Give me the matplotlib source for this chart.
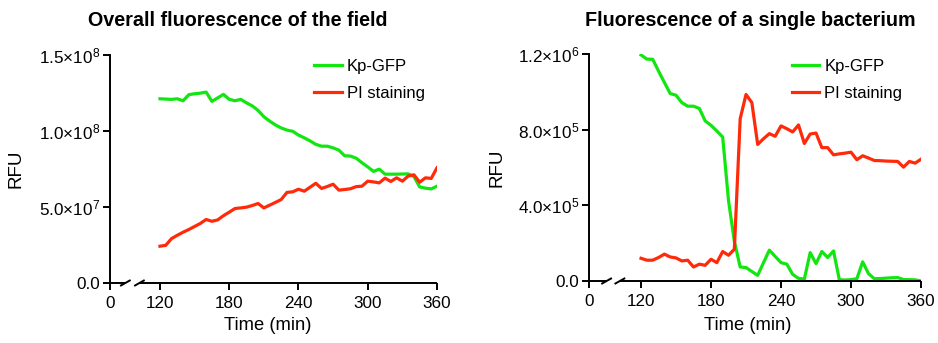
import numpy as np
import matplotlib
matplotlib.use("Agg")
import matplotlib.pyplot as plt

plt.rcParams['font.family'] = ['Liberation Sans', 'DejaVu Sans']
plt.rcParams['mathtext.fontset'] = 'custom'
plt.rcParams['mathtext.rm'] = 'Liberation Sans'
plt.rcParams['mathtext.it'] = 'Liberation Sans'
plt.rcParams['mathtext.default'] = 'regular'

# ---------------- data ----------------
time_min = list(range(120, 361, 5))

field_gfp = [1.212, 1.210, 1.208, 1.212, 1.199, 1.239, 1.245, 1.249, 1.256, 1.195,
             1.218, 1.241, 1.208, 1.199, 1.208, 1.185, 1.165, 1.135, 1.094, 1.065,
             1.040, 1.020, 1.006, 0.998, 0.973, 0.955, 0.935, 0.912, 0.900, 0.900,
             0.889, 0.874, 0.837, 0.835, 0.821, 0.791, 0.764, 0.734, 0.749, 0.716,
             0.716, 0.716, 0.717, 0.718, 0.700, 0.632, 0.624, 0.619, 0.637]
field_pi = [0.242, 0.248, 0.292, 0.314, 0.334, 0.352, 0.372, 0.392, 0.418, 0.406,
            0.415, 0.443, 0.466, 0.490, 0.494, 0.499, 0.510, 0.523, 0.494, 0.512,
            0.530, 0.549, 0.596, 0.600, 0.617, 0.604, 0.630, 0.656, 0.622, 0.635,
            0.650, 0.611, 0.615, 0.620, 0.634, 0.637, 0.670, 0.665, 0.659, 0.690,
            0.668, 0.692, 0.670, 0.703, 0.712, 0.663, 0.692, 0.688, 0.758]
field_gfp = [v * 1e8 for v in field_gfp]
field_pi = [v * 1e8 for v in field_pi]

cell_gfp = [1.195, 1.173, 1.172, 1.110, 1.050, 0.991, 0.982, 0.943, 0.924, 0.924,
            0.912, 0.846, 0.823, 0.793, 0.761, 0.425, 0.210, 0.074, 0.071, 0.050,
            0.030, 0.097, 0.163, 0.130, 0.097, 0.089, 0.035, 0.014, 0.010, 0.150,
            0.092, 0.156, 0.124, 0.159, 0.007, 0.005, 0.007, 0.012, 0.101, 0.039,
            0.012, 0.013, 0.015, 0.017, 0.018, 0.008, 0.007, 0.006, 0.000]
cell_pi = [0.120, 0.110, 0.110, 0.124, 0.142, 0.127, 0.122, 0.106, 0.110, 0.074,
           0.089, 0.083, 0.115, 0.097, 0.156, 0.136, 0.168, 0.858, 0.986, 0.943,
           0.722, 0.752, 0.779, 0.765, 0.820, 0.805, 0.788, 0.825, 0.727, 0.777,
           0.782, 0.705, 0.705, 0.667, 0.672, 0.676, 0.681, 0.641, 0.662, 0.650,
           0.637, 0.636, 0.634, 0.633, 0.632, 0.602, 0.632, 0.623, 0.644]
cell_pi = [v * 1e6 for v in cell_pi]
cell_gfp = [v * 1e6 for v in cell_gfp]

xticks = [0, 120, 180, 240, 300, 360]
left_yticks = [0, 5e7, 1e8, 1.5e8]
left_ylabels = ['0.0', '5.0×10$^{7}$', '1.0×10$^{8}$', '1.5×10$^{8}$']
right_yticks = [0, 4e5, 8e5, 1.2e6]
right_ylabels = ['0.0', '4.0×10$^{5}$', '8.0×10$^{5}$', '1.2×10$^{6}$']
series_names = ['Kp-GFP', 'PI staining']
titles = ['Overall fluorescence of the field', 'Fluorescence of a single bacterium']

GREEN = '#11e611'
RED = '#ff2a0a'

W, H = 938, 343
fig = plt.figure(figsize=(W / 100, H / 100), dpi=100)


def make_scale(gap):
    def fwd(x):
        x = np.asarray(x, dtype=float)
        return np.where(x < 120, x * gap / 120.0, gap + (x - 120.0))

    def inv(y):
        y = np.asarray(y, dtype=float)
        return np.where(y < gap, y * 120.0 / gap, y - gap + 120.0)
    return fwd, inv


def setup(ax, gap, ymax, yticks, ylabels, b1, b2, leg_x, leg_y,
          ylab_x, xlab_x, xlab_y):
    ax.set_xscale('function', functions=make_scale(gap))
    ax.set_xlim(0, 360)
    ax.set_ylim(0, ymax)
    for s in ['top', 'right', 'bottom']:
        ax.spines[s].set_visible(False)
    ax.spines['left'].set_linewidth(1.4)
    ax.set_xticks(xticks)
    ax.set_xticklabels([str(v) for v in xticks])
    ax.xaxis.set_minor_locator(matplotlib.ticker.NullLocator())
    ax.set_yticks(yticks)
    ax.set_yticklabels(ylabels)
    ax.tick_params(axis='both', direction='out', length=5, width=1.4,
                   labelsize=12.3, colors='black')
    ax.tick_params(axis='x', pad=4)
    ax.tick_params(axis='y', pad=2)
    ax.set_xlabel('Time (min)', fontsize=13.2)
    ax.set_ylabel('RFU', fontsize=13.5)
    ax.yaxis.set_label_coords(ylab_x, 0.5)
    ax.xaxis.set_label_coords(xlab_x, xlab_y)
    # broken x axis line
    kw = dict(transform=ax.transAxes, color='black', lw=1.4, clip_on=False,
              solid_capstyle='butt')
    ax.plot([0, b1], [0, 0], **kw)
    ax.plot([b2, 1], [0, 0], **kw)
    dx, dy = 0.016, 0.013
    for b in (b1, b2):
        ax.plot([b - dx, b + dx], [-dy, dy], **kw)
    ax.legend(loc='upper left', bbox_to_anchor=(leg_x, leg_y), frameon=False,
              fontsize=12, handlelength=1.65, handletextpad=0.3,
              borderpad=0, borderaxespad=0, labelspacing=0.7)


ax1 = fig.add_axes([110 / W, 1 - 283 / H, 327 / W, 228 / H])
ax1.plot(time_min, field_gfp, color=GREEN, lw=2.3, label=series_names[0])
ax1.plot(time_min, field_pi, color=RED, lw=2.3, label=series_names[1])
setup(ax1, 43.3, 1.5e8, left_yticks, left_ylabels, 0.047, 0.090, 0.624, 0.983,
      -0.26, 0.483, -0.15)

ax2 = fig.add_axes([589 / W, 1 - 281 / H, 332 / W, 227 / H])
ax2.plot(time_min, cell_gfp, color=GREEN, lw=2.3, label=series_names[0])
ax2.plot(time_min, cell_pi, color=RED, lw=2.3, label=series_names[1])
setup(ax2, 44.6, 1.2e6, right_yticks, right_ylabels, 0.053, 0.093, 0.611, 0.978,
      -0.253, 0.477, -0.16)

fig.text(238 / W, 1 - 20 / H, titles[0], fontsize=14.2, fontweight='bold',
         ha='center', va='center')
fig.text(750 / W, 1 - 20 / H, titles[1], fontsize=14.2, fontweight='bold',
         ha='center', va='center')

fig.savefig('out.png', dpi=100)
